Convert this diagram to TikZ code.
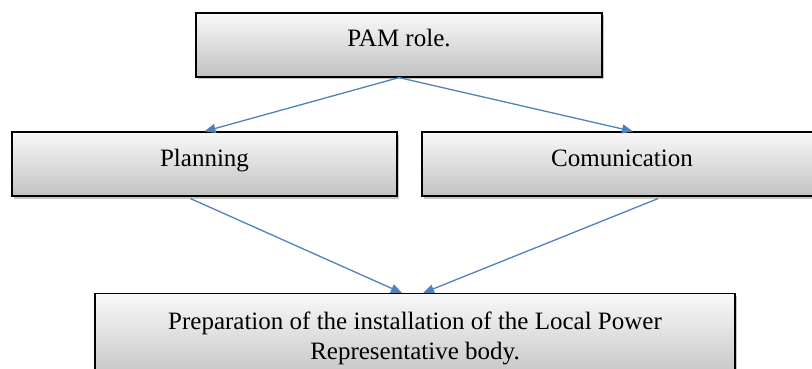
\documentclass[tikz,border=0pt]{standalone}
\usepackage{fontspec}
\setmainfont{Liberation Serif}
\usetikzlibrary{arrows.meta, shadows}
\definecolor{linkblue}{HTML}{4F81BD}

\begin{document}
\begin{tikzpicture}[x=1pt, y=1pt,
    box/.style={draw=black, line width=1.2pt, top color=gray!5, bottom color=gray!48,
        drop shadow={shadow xshift=1.5pt, shadow yshift=-2.5pt, opacity=0.45},
        font=\fontsize{25}{30}\selectfont, inner sep=0pt},
    card/.style={box, minimum height=64, text height=18pt, text depth=14pt},
    link/.style={-{Triangle[length=11pt,width=9pt]}, linkblue, line width=1.3pt}]
    \useasboundingbox (0,0) rectangle (812,-369);
    \node[card, minimum width=406] (role) at (399,-45) {PAM role.};
    \node[card, minimum width=385] (plan) at (204.5,-164) {Planning};
    \node[card, minimum width=400] (comm) at (622,-164) {Comunication};
    \node[box, minimum width=640, anchor=north, align=center, inner ysep=18pt] (prep) at (415,-293)
        {Preparation of the installation of the Local Power\\Representative body.};
    \draw[link] (role.south) -- (plan.north);
    \draw[link] (role.south) -- ([xshift=11pt]comm.north);
    \draw[link] ([xshift=-14pt,yshift=-2pt]plan.south) -- ([xshift=-13pt]prep.north);
    \draw[link] ([xshift=36pt,yshift=-2pt]comm.south) -- ([xshift=8pt]prep.north);
\end{tikzpicture}
\end{document}
